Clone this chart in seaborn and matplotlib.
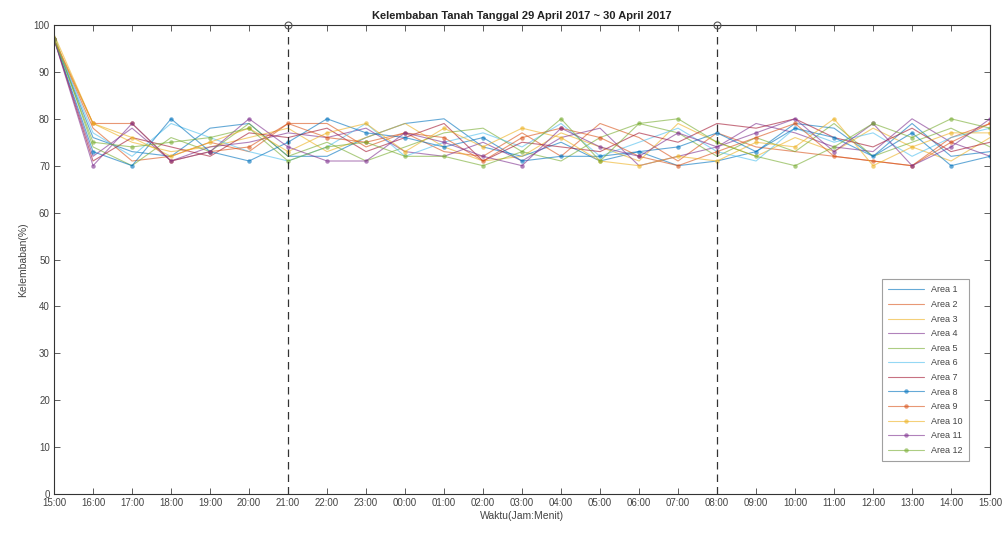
import numpy as np
import pandas as pd
import matplotlib
matplotlib.use("Agg")
import matplotlib.pyplot as plt
import seaborn as sns

# Hourly time labels, 29 April 15:00 -> 30 April 15:00
time_labels = ["15:00", "16:00", "17:00", "18:00", "19:00", "20:00", "21:00",
               "22:00", "23:00", "00:00", "01:00", "02:00", "03:00", "04:00",
               "05:00", "06:00", "07:00", "08:00", "09:00", "10:00", "11:00",
               "12:00", "13:00", "14:00", "15:00"]

area_1 = [97, 76, 73, 72, 78, 79, 72, 72, 76, 79, 80, 74, 72, 75, 71, 73, 70, 71, 73, 79, 78, 72, 79, 72, 73]
area_2 = [97, 78, 71, 72, 75, 73, 79, 79, 74, 77, 73, 72, 77, 72, 79, 76, 71, 77, 74, 73, 72, 71, 70, 76, 79]
area_3 = [98, 79, 75, 73, 74, 76, 78, 73, 76, 79, 74, 71, 72, 77, 74, 71, 79, 75, 72, 76, 73, 78, 74, 71, 76]
area_4 = [97, 72, 78, 71, 74, 75, 77, 76, 78, 73, 72, 75, 71, 76, 78, 70, 72, 74, 79, 77, 74, 73, 80, 75, 72]
area_5 = [98, 74, 70, 76, 73, 79, 72, 75, 71, 74, 77, 78, 73, 71, 76, 79, 77, 72, 76, 73, 79, 72, 75, 78, 74]
area_6 = [97, 77, 72, 79, 76, 73, 71, 74, 79, 72, 75, 77, 74, 79, 72, 75, 78, 73, 71, 78, 75, 77, 72, 76, 78]
area_7 = [97, 71, 76, 74, 72, 77, 76, 78, 73, 76, 79, 71, 75, 74, 73, 77, 75, 79, 78, 80, 76, 74, 78, 73, 75]
area_8 = [97, 73, 70, 80, 73, 71, 75, 80, 77, 76, 74, 76, 71, 72, 72, 73, 74, 77, 73, 78, 76, 72, 77, 70, 72]
area_9 = [97, 79, 79, 71, 73, 74, 79, 76, 75, 77, 76, 71, 76, 78, 76, 72, 70, 73, 76, 79, 72, 71, 70, 75, 79]
area_10 = [97, 79, 76, 72, 75, 78, 73, 77, 79, 73, 78, 74, 78, 76, 71, 70, 72, 71, 75, 74, 80, 70, 74, 77, 77]
area_11 = [97, 70, 79, 71, 73, 80, 74, 71, 71, 77, 75, 72, 70, 78, 74, 72, 77, 74, 77, 80, 73, 79, 70, 74, 80]
area_12 = [97, 75, 74, 75, 76, 78, 71, 74, 75, 72, 72, 70, 73, 80, 71, 79, 80, 75, 72, 70, 74, 79, 76, 80, 78]

series = [area_1, area_2, area_3, area_4, area_5, area_6, area_7,
          area_8, area_9, area_10, area_11, area_12]
names = [f"Area {i}" for i in range(1, 13)]

# Hours marked with a dashed reference line
marked_hours = ["21:00", "08:00"]

matlab_colors = ["#0072BD", "#D95319", "#EDB120", "#7E2F8E",
                 "#77AC30", "#4DBEEE", "#A2142F"]

sns.set_style("white")
plt.rcParams["font.family"] = ["Liberation Sans", "DejaVu Sans"]

fig = plt.figure(figsize=(10.08, 5.35), dpi=100)
ax = fig.add_axes([0.0536, 0.0766, 0.9286, 0.8767])

x = np.arange(len(time_labels))
for i, (name, vals) in enumerate(zip(names, series)):
    df = pd.DataFrame({"t": x, "v": vals})
    color = matlab_colors[i % 7]
    marker = "o" if i >= 7 else None
    sns.lineplot(data=df, x="t", y="v", ax=ax, color=color, linewidth=0.8,
                 alpha=0.6, marker=marker, markersize=3.2,
                 markeredgewidth=0, label=name)

for h in marked_hours:
    xi = time_labels.index(h)
    ax.plot([xi, xi], [0, 100], linestyle=(0, (6, 4)), color="#333333",
            linewidth=0.9, marker="o", markevery=[1], markersize=5,
            markerfacecolor="none", markeredgecolor="#555555",
            markeredgewidth=0.8, clip_on=False, zorder=5)

ax.set_xlim(0, len(time_labels) - 1)
ax.set_ylim(0, 100)
ax.set_xticks(x)
ax.set_xticklabels(time_labels)
ax.set_yticks(np.arange(0, 101, 10))
ax.tick_params(direction="in", length=4, width=0.6, colors="#444444",
               labelsize=7, labelcolor="#444444", top=True, right=True,
               bottom=True, left=True, pad=3)
for side in ax.spines.values():
    side.set_color("#333333")
    side.set_linewidth(0.8)

ax.set_title("Kelembaban Tanah Tanggal 29 April 2017 ~ 30 April 2017",
             fontsize=8, fontweight="bold", color="#222222", pad=4)
ax.set_xlabel("Waktu(Jam:Menit)", fontsize=7.5, color="#444444", labelpad=2)
ax.set_ylabel("Kelembaban(%)", fontsize=7.5, color="#444444", labelpad=4)

leg = ax.legend(loc="lower right", bbox_to_anchor=(0.982, 0.06),
                fontsize=6.5, frameon=True, fancybox=False, handlelength=3.9,
                labelspacing=0.62, borderpad=0.7)
leg.get_frame().set_edgecolor("#888888")
leg.get_frame().set_linewidth(0.8)
for t in leg.get_texts():
    t.set_color("#444444")

fig.savefig("out.png", dpi=100)
